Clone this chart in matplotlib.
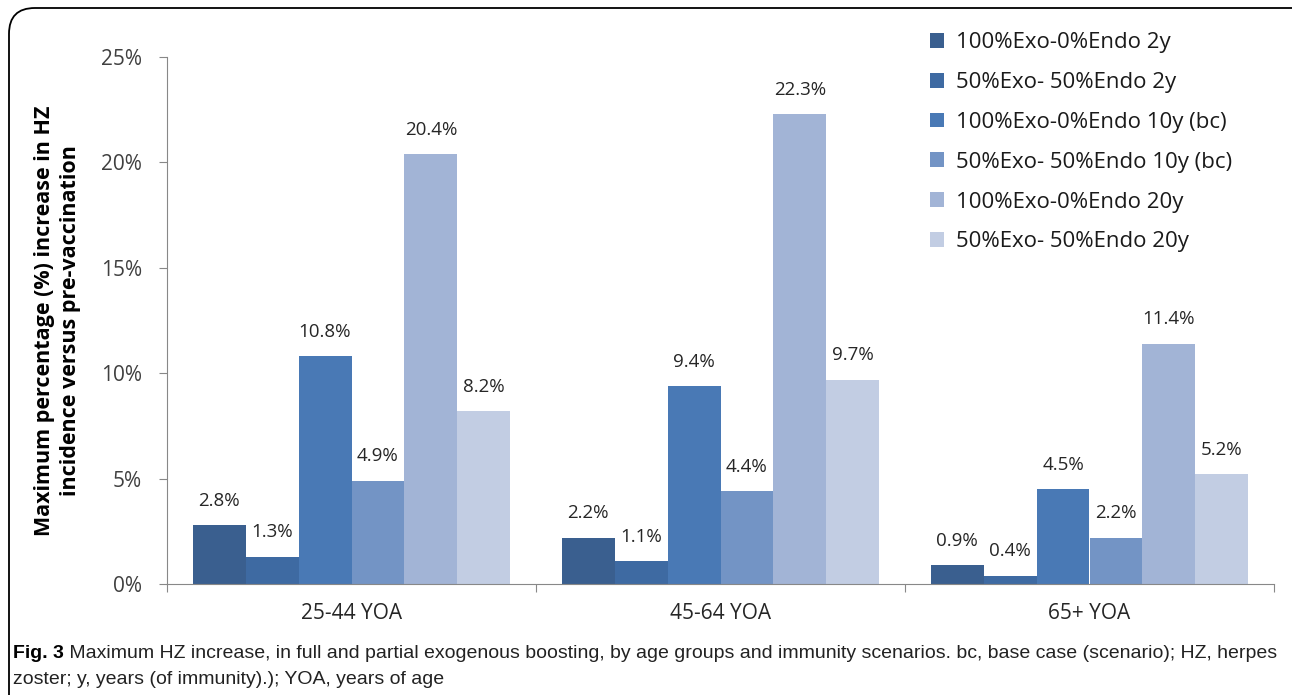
import numpy as np
import matplotlib
matplotlib.use("Agg")
import matplotlib.pyplot as plt
from matplotlib.patches import FancyBboxPatch

groups = ["25-44 YOA", "45-64 YOA", "65+ YOA"]
series = ["100%Exo-0%Endo 2y", "50%Exo- 50%Endo 2y", "100%Exo-0%Endo 10y (bc)",
          "50%Exo- 50%Endo 10y (bc)", "100%Exo-0%Endo 20y", "50%Exo- 50%Endo 20y"]
exo100_2y = [2.8, 2.2, 0.9]
exo50_2y = [1.3, 1.1, 0.4]
exo100_10y = [10.8, 9.4, 4.5]
exo50_10y = [4.9, 4.4, 2.2]
exo100_20y = [20.4, 22.3, 11.4]
exo50_20y = [8.2, 9.7, 5.2]
values = [exo100_2y, exo50_2y, exo100_10y, exo50_10y, exo100_20y, exo50_20y]
colors = ["#3A5F8F", "#3E6AA2", "#4979B5", "#7394C5", "#A2B4D6", "#C2CDE3"]

plt.rcParams['font.family'] = ['Open Sans', 'DejaVu Sans']

fig = plt.figure(figsize=(12.92, 6.95), dpi=100)
ax = fig.add_axes([167/1292, 1-584/695, (1274-167)/1292, (584-57)/695])

x = np.arange(len(groups))
w = 0.1435
for i, (vals, c) in enumerate(zip(values, colors)):
    pos = x - 3*w + w/2 + i*w
    bars = ax.bar(pos, vals, width=w, color=c, label=series[i])
    for b, v in zip(bars, vals):
        ax.annotate(f"{v:.1f}%", (b.get_x() + b.get_width()/2, v),
                    xytext=(0, 11), textcoords="offset points",
                    ha="center", va="bottom", fontsize=13.5, color="#262626")

ax.set_xlim(-0.5, 2.5)
ax.set_ylim(0, 25)
ax.set_yticks([0, 5, 10, 15, 20, 25])
ax.set_yticklabels([f"{t}%" for t in [0, 5, 10, 15, 20, 25]])
ax.set_xticks([-0.5, 0.5, 1.5, 2.5])
ax.set_xticklabels([])
ax.set_xticks(x, minor=True)
ax.set_xticklabels(groups, minor=True)
ax.tick_params(axis="x", which="minor", length=0, pad=14, labelsize=15, labelcolor="#262626")
ax.tick_params(axis="x", which="major", length=6, color="#888888")
ax.tick_params(axis="y", length=6, color="#888888", pad=12, labelsize=15, labelcolor="#404040")
for s in ["top", "right"]:
    ax.spines[s].set_visible(False)
for s in ["left", "bottom"]:
    ax.spines[s].set_color("#888888")

ax.set_ylabel("Maximum percentage (%) increase in HZ\nincidence versus pre-vaccination",
              fontsize=15.5, fontweight="bold", color="#000000", linespacing=1.3)
ax.yaxis.set_label_coords(-0.078, 0.5)

fig.legend(loc="upper left", bbox_to_anchor=(910/1292, 1-12/695), frameon=False,
           fontsize=16, handlelength=0.65, handleheight=0.65, handletextpad=0.5,
           labelspacing=0.85, labelcolor="#1a1a1a")

frame = FancyBboxPatch((9/1292, -0.05), 1.1, 1-8/695+0.05,
                       boxstyle="round,pad=0,rounding_size=0.02",
                       transform=fig.transFigure, fill=False, ec="black", lw=1.3,
                       mutation_aspect=1292/695)
fig.patches.append(frame)

cap_font = ['Liberation Sans Narrow', 'Liberation Sans', 'DejaVu Sans']
t1 = fig.text(13/1292, 1-653/695, "Fig. 3", fontsize=14, fontweight="bold",
              family=cap_font, va="center")
ax.annotate(" Maximum HZ increase, in full and partial exogenous boosting, by age groups and immunity scenarios. bc, base case (scenario); HZ, herpes",
            xy=(1, 0.5), xycoords=t1, va="center", ha="left",
            fontsize=14, family=cap_font, color="#222222", annotation_clip=False)
fig.text(13/1292, 1-680/695, "zoster; y, years (of immunity).); YOA, years of age",
         fontsize=14, family=cap_font, va="center", color="#222222")

fig.savefig("out.png", dpi=100)
